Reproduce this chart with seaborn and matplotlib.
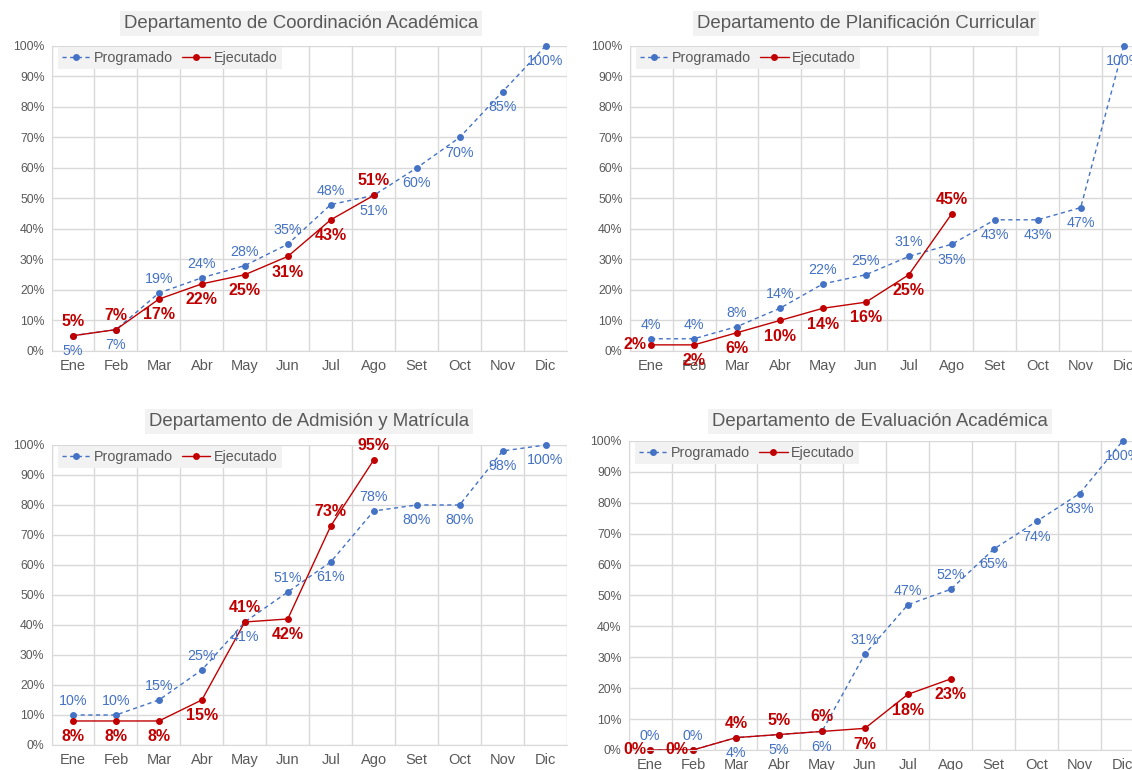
import numpy as np
import pandas as pd
import seaborn as sns
import matplotlib.pyplot as plt

meses = ["Ene", "Feb", "Mar", "Abr", "May", "Jun", "Jul", "Ago", "Set", "Oct", "Nov", "Dic"]

titulos = ["Departamento de Coordinación Académica",
           "Departamento de Planificación Curricular",
           "Departamento de Admisión y Matrícula",
           "Departamento de Evaluación Académica"]

# avance acumulado (%)
prog_coord = [5, 7, 19, 24, 28, 35, 48, 51, 60, 70, 85, 100]
ejec_coord = [5, 7, 17, 22, 25, 31, 43, 51]

prog_plan = [4, 4, 8, 14, 22, 25, 31, 35, 43, 43, 47, 100]
ejec_plan = [2, 2, 6, 10, 14, 16, 25, 45]

prog_adm = [10, 10, 15, 25, 41, 51, 61, 78, 80, 80, 98, 100]
ejec_adm = [8, 8, 8, 15, 41, 42, 73, 95]

prog_eval = [0, 0, 4, 5, 6, 31, 47, 52, 65, 74, 83, 100]
ejec_eval = [0, 0, 4, 5, 6, 7, 18, 23]

# posicion de etiquetas: a = arriba, b = abajo, l = izquierda
pos_prog = [list("bbaaaaabbbbb"), list("aaaaaaabbbbb"),
            list("aaaabababbbb"), list("aabbbaaabbbb")]
pos_ejec = [list("aabbbbba"), list("lbbbbbba"),
            list("bbbbabaa"), list("llaaabbb")]

AZUL = "#4472C4"
ROJO = "#C00000"
GRIS = "#595959"

sns.set_style("white")
plt.rcParams['font.family'] = ['Liberation Sans', 'DejaVu Sans']

fig = plt.figure(figsize=(11.32, 7.7), dpi=100)

# [left, bottom, width, height]
rects = [[0.0455, 0.5442, 0.4554, 0.3961],
         [0.5562, 0.5442, 0.4554, 0.3961],
         [0.0455, 0.0325, 0.4554, 0.3896],
         [0.5553, 0.026, 0.4554, 0.4013]]
title_xy = [(0.266, 0.970), (0.765, 0.970), (0.273, 0.453), (0.777, 0.453)]

series = [(prog_coord, ejec_coord), (prog_plan, ejec_plan),
          (prog_adm, ejec_adm), (prog_eval, ejec_eval)]


def etiqueta(ax, x, y, txt, pos, color, bold):
    off = {"a": (0, 5), "b": (0, -6), "l": (-3, 0)}[pos]
    va = {"a": "bottom", "b": "top", "l": "center"}[pos]
    ha = "right" if pos == "l" else "center"
    ax.annotate(txt, (x, y), xytext=off, textcoords="offset points",
                ha=ha, va=va, color=color, clip_on=False,
                fontsize=11.5 if bold else 10.3,
                fontweight="bold" if bold else "normal")


for i in range(4):
    ax = fig.add_axes(rects[i])
    prog, ejec = series[i]
    df_p = pd.DataFrame({"x": np.arange(len(prog)), "y": np.array(prog) / 100})
    df_e = pd.DataFrame({"x": np.arange(len(ejec)), "y": np.array(ejec) / 100})

    sns.lineplot(data=df_p, x="x", y="y", ax=ax, color=AZUL, linewidth=1,
                 linestyle=(0, (3, 2.5)), marker="o", markersize=5,
                 markeredgewidth=0, label="Programado", clip_on=False)
    sns.lineplot(data=df_e, x="x", y="y", ax=ax, color=ROJO, linewidth=1,
                 marker="o", markersize=5, markeredgewidth=0,
                 label="Ejecutado", clip_on=False)

    for j, v in enumerate(prog):
        etiqueta(ax, j, v / 100, f"{v}%", pos_prog[i][j], AZUL, False)
    for j, v in enumerate(ejec):
        etiqueta(ax, j, v / 100, f"{v}%", pos_ejec[i][j], ROJO, True)

    ax.set_xlim(-0.5, 11.5)
    ax.set_ylim(0, 1)
    ax.set_xticks(range(12))
    ax.set_xticklabels(meses)
    ax.set_xticks(np.arange(-0.5, 12, 1), minor=True)
    ax.set_yticks(np.arange(0, 1.01, 0.1))
    ax.set_yticklabels([f"{k}%" for k in range(0, 101, 10)])
    ax.tick_params(axis="x", which="both", length=0, labelsize=10.5,
                   labelcolor=GRIS, pad=6)
    ax.tick_params(axis="y", length=0, labelsize=8.8, labelcolor=GRIS, pad=5)
    ax.grid(True, axis="y", color="#D9D9D9", linewidth=1)
    ax.grid(True, axis="x", which="minor", color="#D9D9D9", linewidth=1)
    ax.grid(False, axis="x", which="major")
    for s in ["top", "right"]:
        ax.spines[s].set_visible(False)
    for s in ["left", "bottom"]:
        ax.spines[s].set_color("#D9D9D9")
    ax.set_xlabel("")
    ax.set_ylabel("")

    leg = ax.legend(loc="upper left", ncol=2, bbox_to_anchor=(0.012, 0.997),
                    frameon=True, facecolor="#F2F2F2", edgecolor="none",
                    fancybox=False, fontsize=10.3, handlelength=2.0,
                    handletextpad=0.25, columnspacing=0.6, borderpad=0.3,
                    borderaxespad=0)
    leg.get_frame().set_alpha(1)
    for t in leg.get_texts():
        t.set_color(GRIS)

    fig.text(title_xy[i][0], title_xy[i][1], titulos[i], ha="center",
             va="center", fontsize=13.4, color=GRIS,
             bbox=dict(facecolor="#F2F2F2", edgecolor="none", pad=3))

fig.savefig("out.png", dpi=100, facecolor="white")
